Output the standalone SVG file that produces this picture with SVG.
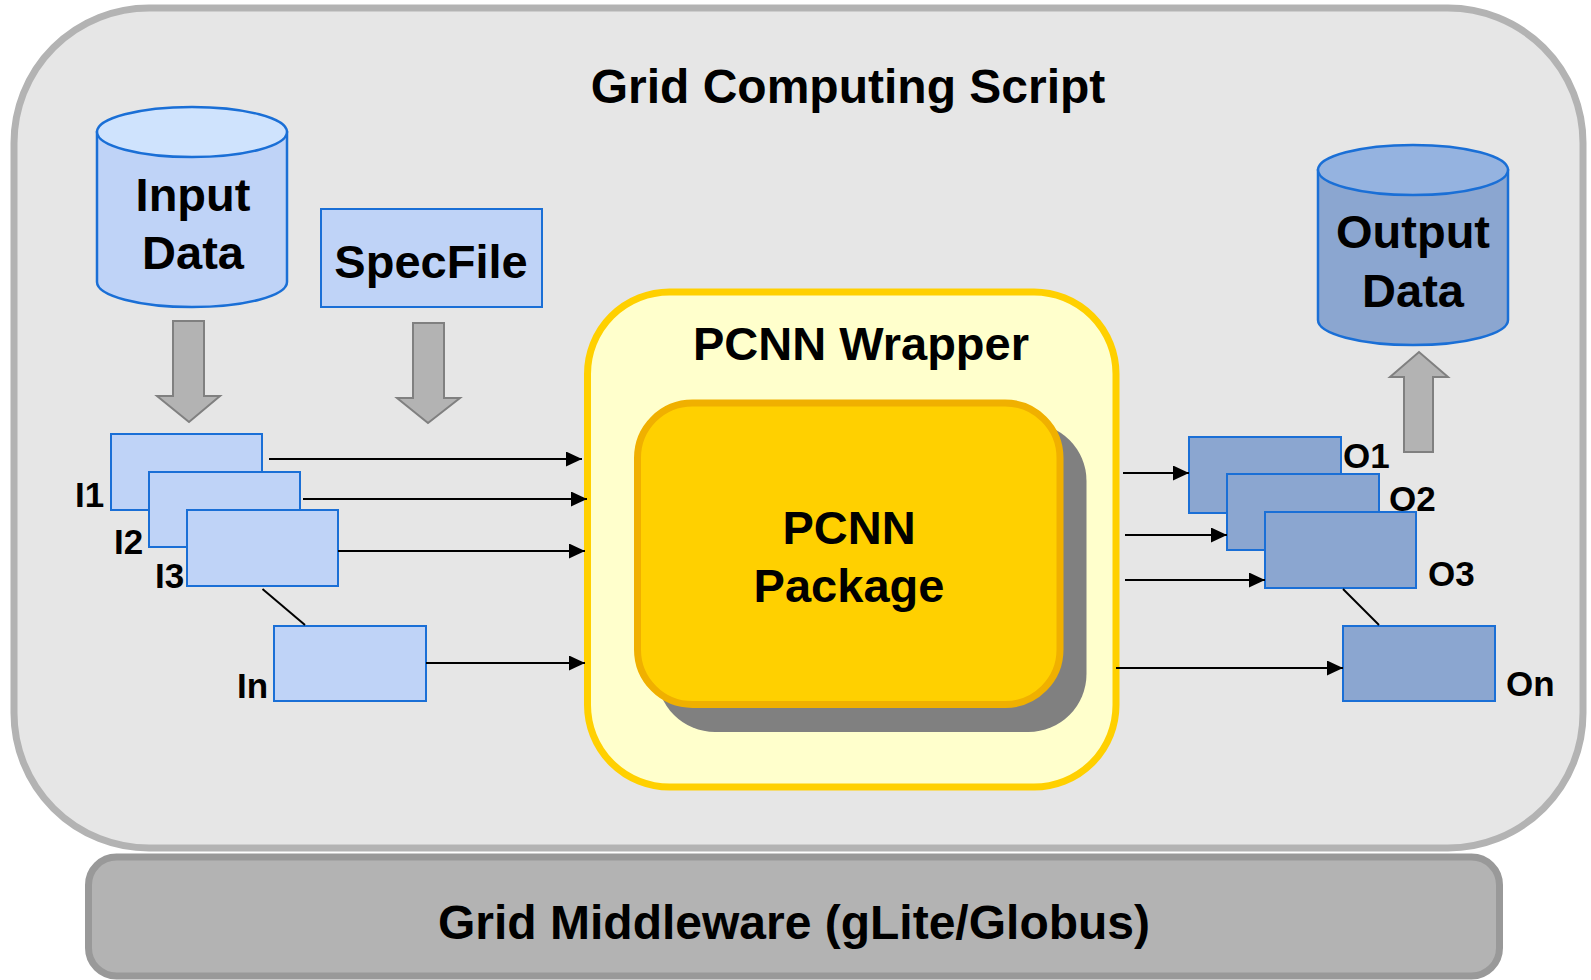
<svg xmlns="http://www.w3.org/2000/svg" width="1591" height="980" viewBox="0 0 1591 980">
<defs>
<marker id="ah" markerUnits="userSpaceOnUse" markerWidth="16" markerHeight="15" refX="16" refY="7.5" orient="auto">
<path d="M0,0 L16,7.5 L0,15 z" fill="#000"/>
</marker>
<style>
text{font-family:"Liberation Sans",Arial,Helvetica,sans-serif;font-weight:bold;fill:#000}
.t48{font-size:48px;text-anchor:middle}
.t47{font-size:47px;text-anchor:middle}
.lbl{font-size:35px}
.inbox{fill:#bfd3f7;stroke:#1a6fd6;stroke-width:2}
.outbox{fill:#8ba6d0;stroke:#1a6fd6;stroke-width:2}
.garrow{fill:#b3b3b3;stroke:#808080;stroke-width:2}
.conn{stroke:#000;stroke-width:2;fill:none}
</style>
</defs>
<g id="grid-script">
<rect x="14" y="8" width="1569" height="840" rx="135" ry="135" fill="#e6e6e6" stroke="#b3b3b3" stroke-width="7"/>
<text class="t48" x="848" y="103">Grid Computing Script</text>
</g>
<g id="middleware">
<rect x="88.5" y="857" width="1411" height="119" rx="28" ry="28" fill="#b3b3b3" stroke="#999999" stroke-width="7"/>
<text class="t48" x="794" y="939">Grid Middleware (gLite/Globus)</text>
</g>
<g id="input-data">
<path d="M97,132 L97,282 A95,25 0 0 0 287,282 L287,132 Z" fill="#bfd3f7" stroke="#1a6fd6" stroke-width="2.5"/>
<ellipse cx="192" cy="132" rx="95" ry="25" fill="#cfe3fd" stroke="#1a6fd6" stroke-width="2.5"/>
<text class="t47" x="193" y="211">Input</text>
<text class="t47" x="193" y="269">Data</text>
</g>
<g id="specfile">
<rect x="321" y="209" width="221" height="98" fill="#bfd3f7" stroke="#1a6fd6" stroke-width="2"/>
<text class="t47" x="431" y="278">SpecFile</text>
</g>
<g id="output-data">
<path d="M1318,170 L1318,320 A95,25 0 0 0 1508,320 L1508,170 Z" fill="#8ba6d0" stroke="#1a6fd6" stroke-width="2.5"/>
<ellipse cx="1413" cy="170" rx="95" ry="25" fill="#95b3e0" stroke="#1a6fd6" stroke-width="2.5"/>
<text class="t47" x="1413" y="248">Output</text>
<text class="t47" x="1413" y="307">Data</text>
</g>
<g id="block-arrows">
<polygon class="garrow" points="173,321 204,321 204,396 220,396 189,422 157,396 173,396"/>
<polygon class="garrow" points="413,323 444,323 444,398 460,398 428,423 397,398 413,398"/>
<polygon class="garrow" points="1404,452 1433,452 1433,377 1448,377 1419,352 1390,377 1404,377"/>
</g>
<g id="inputs">
<rect class="inbox" x="111" y="434" width="151" height="76"/>
<rect class="inbox" x="149" y="472" width="151" height="75"/>
<rect class="inbox" x="187" y="510" width="151" height="76"/>
<rect class="inbox" x="274" y="626" width="152" height="75"/>
<text class="lbl" x="75" y="507">I1</text>
<text class="lbl" x="114" y="554">I2</text>
<text class="lbl" x="155" y="588">I3</text>
<text class="lbl" x="237" y="698">In</text>
</g>
<g id="pcnn-wrapper">
<rect x="587.5" y="292" width="528.5" height="495" rx="82" ry="82" fill="#ffffcc" stroke="#ffd000" stroke-width="7"/>
<text class="t47" x="861" y="360">PCNN Wrapper</text>
</g>
<g id="pcnn-package">
<rect x="657" y="423" width="429.5" height="309" rx="58" ry="58" fill="#808080"/>
<rect x="637.5" y="403" width="422.5" height="301.5" rx="55" ry="55" fill="#ffd000" stroke="#f0b000" stroke-width="7"/>
<text class="t47" x="849" y="544">PCNN</text>
<text class="t47" x="849" y="602">Package</text>
</g>
<g id="outputs">
<rect class="outbox" x="1189" y="437" width="152" height="76"/>
<rect class="outbox" x="1227" y="474" width="152" height="76"/>
<rect class="outbox" x="1265" y="512" width="151" height="76"/>
<rect class="outbox" x="1343" y="626" width="152" height="75"/>
<text class="lbl" x="1343" y="468">O1</text>
<text class="lbl" x="1389" y="511">O2</text>
<text class="lbl" x="1428" y="586">O3</text>
<text class="lbl" x="1506" y="696">On</text>
</g>
<g id="connectors">
<line class="conn" x1="269" y1="459" x2="582" y2="459" marker-end="url(#ah)"/>
<line class="conn" x1="303" y1="499" x2="587" y2="499" marker-end="url(#ah)"/>
<line class="conn" x1="338" y1="551" x2="585" y2="551" marker-end="url(#ah)"/>
<line class="conn" x1="426" y1="663" x2="585" y2="663" marker-end="url(#ah)"/>
<line class="conn" x1="262.5" y1="589" x2="305" y2="625"/>
<line class="conn" x1="1123" y1="473" x2="1189" y2="473" marker-end="url(#ah)"/>
<line class="conn" x1="1125" y1="535" x2="1227" y2="535" marker-end="url(#ah)"/>
<line class="conn" x1="1125" y1="580" x2="1265" y2="580" marker-end="url(#ah)"/>
<line class="conn" x1="1116" y1="668" x2="1343" y2="668" marker-end="url(#ah)"/>
<line class="conn" x1="1343" y1="589" x2="1379" y2="625"/>
</g>
</svg>
